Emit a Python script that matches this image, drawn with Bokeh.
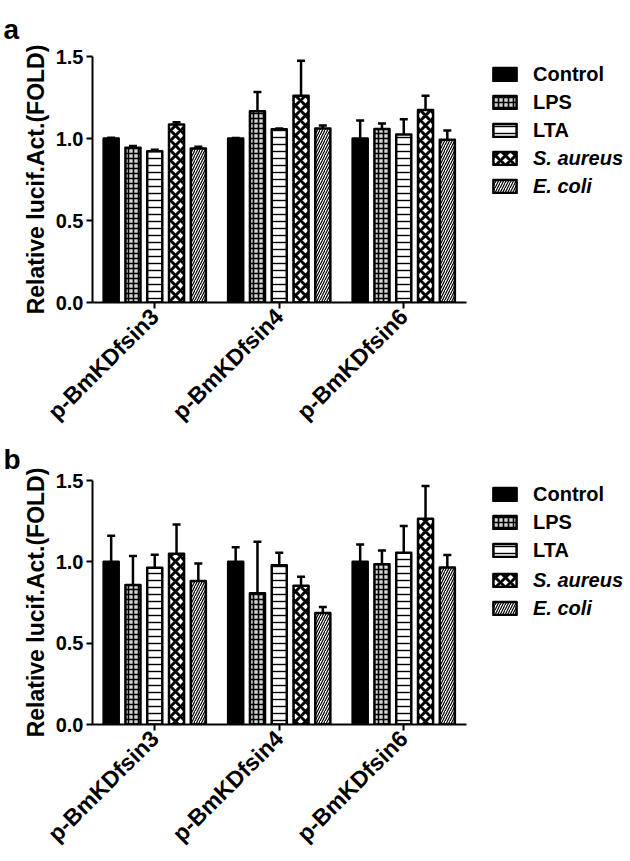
import math
from bokeh.plotting import figure
from bokeh.models import (ColumnDataSource, Range1d, Whisker, TeeHead,
                          Legend, LegendItem, FixedTicker, NumeralTickFormatter)
from bokeh.layouts import column
from bokeh.embed import file_html
from bokeh.resources import INLINE

groups = ["p-BmKDfsin3", "p-BmKDfsin4", "p-BmKDfsin6"]
treatments = ["Control", "LPS", "LTA", "S. aureus", "E. coli"]
y_ticks = [0.0, 0.5, 1.0, 1.5]

# Panel a
a_control = [1.00, 1.00, 1.00]
a_control_err = [0.005, 0.003, 0.110]
a_lps = [0.943, 1.166, 1.058]
a_lps_err = [0.012, 0.117, 0.033]
a_lta = [0.923, 1.056, 1.024]
a_lta_err = [0.008, 0.005, 0.093]
a_saureus = [1.085, 1.261, 1.174]
a_saureus_err = [0.014, 0.213, 0.087]
a_ecoli = [0.939, 1.061, 0.992]
a_ecoli_err = [0.010, 0.018, 0.057]

# Panel b
b_control = [1.00, 1.00, 1.00]
b_control_err = [0.160, 0.090, 0.106]
b_lps = [0.858, 0.807, 0.985]
b_lps_err = [0.178, 0.316, 0.085]
b_lta = [0.963, 0.979, 1.056]
b_lta_err = [0.081, 0.077, 0.164]
b_saureus = [1.050, 0.853, 1.265]
b_saureus_err = [0.179, 0.055, 0.201]
b_ecoli = [0.882, 0.685, 0.965]
b_ecoli_err = [0.108, 0.037, 0.077]

FONT = "Liberation Sans"
W = 630
LEFT = 92
FRAME_H = 247
PX_PER_GROUP = 124.5

styles = {
    "Control": dict(fill_color="black"),
    "LPS": dict(fill_color="#d4d4d4", hatch_pattern="+", hatch_color="black",
                hatch_scale=5, hatch_weight=1.6),
    "LTA": dict(fill_color="white", hatch_pattern="-", hatch_color="black",
                hatch_scale=7, hatch_weight=1.4),
    "S. aureus": dict(fill_color="white", hatch_pattern="x", hatch_color="black",
                      hatch_scale=10, hatch_weight=3),
    "E. coli": dict(fill_color="white", hatch_pattern="/", hatch_color="black",
                    hatch_scale=5, hatch_weight=1.2),
}
offsets = [-0.35, -0.175, 0.0, 0.175, 0.35]


def make_panel(letter, series, errs, height, top_border, title_standoff, leg_vy):
    n = len(groups)
    x_end = (W - LEFT) / PX_PER_GROUP
    p = figure(x_range=Range1d(0, x_end), y_range=Range1d(0, 1.5),
               width=W, height=height, output_backend="svg", toolbar_location=None,
               min_border_left=LEFT, min_border_right=0, min_border_top=top_border,
               min_border_bottom=height - top_border - FRAME_H)
    p.title.text = letter
    p.title.text_font = FONT
    p.title.text_font_size = "28px"
    p.title.text_font_style = "bold"
    p.title.text_color = "black"
    p.title.align = "left"
    p.title.offset = -89
    p.title.standoff = title_standoff

    centers = [i + 0.5 for i in range(n)]
    renderers = []
    for t, vals, e, off in zip(treatments, series, errs, offsets):
        src = ColumnDataSource(dict(x=[c + off for c in centers], mean=vals,
                                    top=[v + x for v, x in zip(vals, e)]))
        r = p.vbar(x="x", top="mean", bottom=0, width=0.121, source=src,
                   line_color="black", line_width=2.5, line_join="round", **styles[t])
        renderers.append(r)
        w = Whisker(source=src, base="x", lower="mean", upper="top",
                    dimension="height", line_color="black", line_width=2.5,
                    upper_head=TeeHead(size=8, line_width=2.5, line_color="black"),
                    lower_head=None)
        p.add_layout(w)

    p.xgrid.visible = False
    p.ygrid.visible = False
    p.outline_line_color = None

    p.xaxis.ticker = FixedTicker(ticks=centers)
    p.xaxis.major_label_overrides = {c: g for c, g in zip(centers, groups)}
    p.xaxis.bounds = (0, n)

    p.yaxis.ticker = FixedTicker(ticks=y_ticks)
    p.yaxis.formatter = NumeralTickFormatter(format="0.0")
    p.yaxis.axis_label = "Relative lucif.Act.(FOLD)"
    p.yaxis.axis_label_text_font = FONT
    p.yaxis.axis_label_text_font_size = "23px"
    p.yaxis.axis_label_text_font_style = "bold"
    p.yaxis.axis_label_text_color = "black"
    p.yaxis.axis_label_standoff = 4

    for ax in (p.xaxis[0], p.yaxis[0]):
        ax.axis_line_width = 2
        ax.axis_line_color = "black"
        ax.major_tick_line_width = 2
        ax.major_tick_line_color = "black"
        ax.major_tick_out = 6
        ax.major_tick_in = 0
        ax.minor_tick_line_color = None
        ax.major_label_text_font = FONT
        ax.major_label_text_font_style = "bold"
        ax.major_label_text_color = "black"
    p.yaxis.major_label_text_font_size = "20px"
    p.yaxis.major_label_standoff = 3
    p.xaxis.major_label_text_font_size = "23px"
    p.xaxis.major_label_orientation = math.pi / 4
    p.xaxis.major_label_standoff = 4

    common = dict(glyph_width=29, glyph_height=16, label_height=24, spacing=4,
                  padding=0, margin=0, border_line_color=None,
                  background_fill_alpha=0, label_text_font=FONT,
                  label_text_color="black",
                  label_text_font_size="20px", label_standoff=14)
    leg1 = Legend(items=[LegendItem(label=t, renderers=[r])
                         for t, r in zip(treatments[:3], renderers[:3])],
                  location=(398, leg_vy[0]), label_text_font_style="bold", **common)
    leg2 = Legend(items=[LegendItem(label=t, renderers=[r])
                         for t, r in zip(treatments[3:], renderers[3:])],
                  location=(398, leg_vy[1]), label_text_font_style="bold italic",
                  **common)
    p.add_layout(leg1)
    p.add_layout(leg2)
    return p


pa = make_panel("a", [a_control, a_lps, a_lta, a_saureus, a_ecoli],
                [a_control_err, a_lps_err, a_lta_err, a_saureus_err, a_ecoli_err],
                436, 55, 23, (160, 104))
pb = make_panel("b", [b_control, b_lps, b_lta, b_saureus, b_ecoli],
                [b_control_err, b_lps_err, b_lta_err, b_saureus_err, b_ecoli_err],
                422, 43, 11, (162, 104))

layout = column(pa, pb)
open("out.html", "w").write(file_html(layout, INLINE))
